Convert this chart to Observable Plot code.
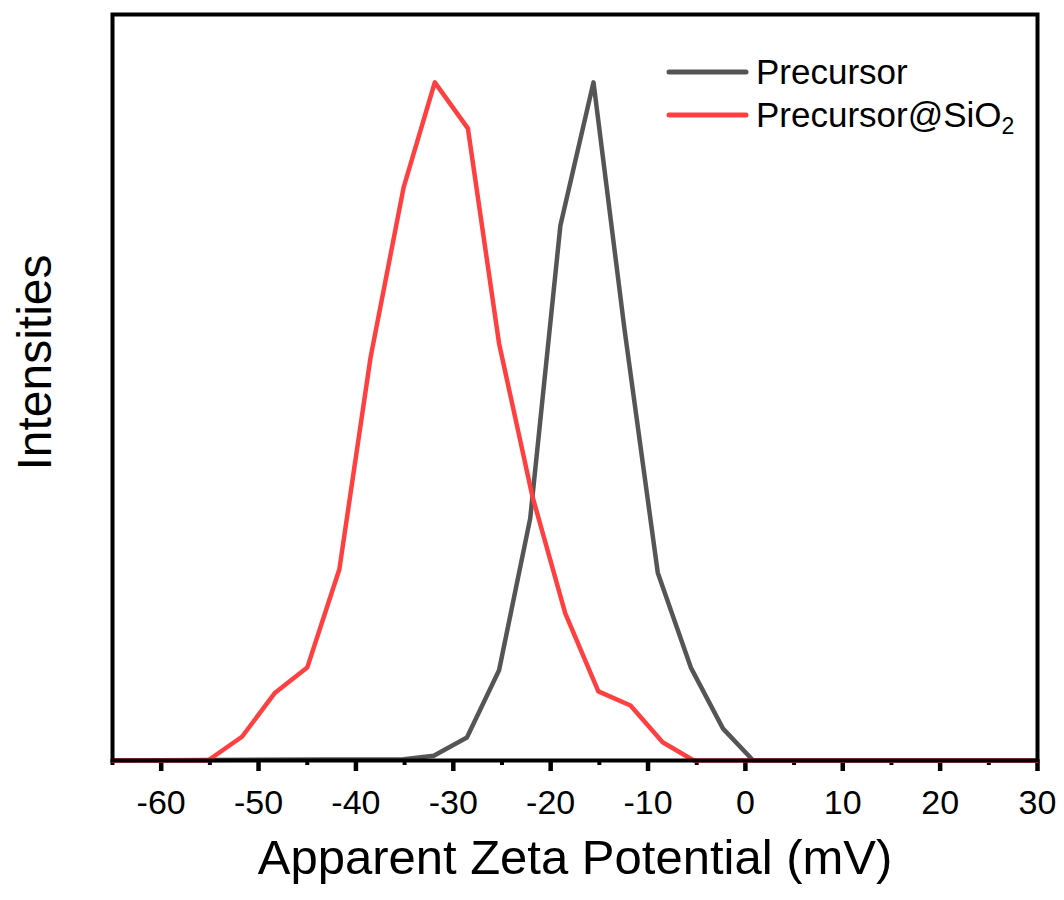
<!DOCTYPE html>
<html>
<head>
<meta charset="utf-8">
<script src="https://cdn.jsdelivr.net/npm/d3@7"></script>
<script src="https://cdn.jsdelivr.net/npm/@observablehq/plot@0.6"></script>
<style>
  html, body { margin: 0; padding: 0; background: #fff; }
  #wrap { position: relative; width: 1064px; height: 900px; font-family: "Liberation Sans", Arial, sans-serif; }
  .leg { position: absolute; left: 0; top: 0; }
  .legtxt { position: absolute; font-size: 35px; color: #000; white-space: nowrap; line-height: 1; }
  .legtxt sub { font-size: 23px; vertical-align: -7px; }
</style>
</head>
<body>
<div id="wrap"></div>
<script>
// Precursor (grey)
const xPrecursor = [-65, -35.1, -32.0, -28.6, -25.3, -22.1, -19.0, -15.6, -12.4, -9.0, -5.6, -2.3, 0.8, 30];
const yPrecursor = [0, 0.2, 0.7, 3.4, 13.3, 35.7, 78.9, 100, 63.4, 27.7, 13.7, 4.7, 0, 0];
// Precursor@SiO2 (red)
const xSiO2 = [-65, -55.2, -51.7, -48.3, -45.0, -41.7, -38.5, -35.1, -31.9, -28.5, -25.3, -21.9, -18.5, -15.1, -11.8, -8.5, -5.3, 30];
const ySiO2 = [0, 0, 3.5, 10.0, 13.7, 28.2, 59.4, 84.5, 100, 93.2, 61.5, 39.1, 21.7, 10.2, 8.1, 2.7, 0, 0];
const xMajorTicks = [-60, -50, -40, -30, -20, -10, 0, 10, 20, 30];
const xMinorTicks = [-65, -55, -45, -35, -25, -15, -5, 5, 15, 25];
const seriesNames = ["Precursor", "Precursor@SiO2"];
const seriesColors = ["#555555", "#ff4040"];

const grey = xPrecursor.map((x, i) => ({x, y: yPrecursor[i]}));
const red = xSiO2.map((x, i) => ({x, y: ySiO2[i]}));

const chart = Plot.plot({
  width: 1064,
  height: 900,
  marginLeft: 112,
  marginRight: 27,
  marginTop: 14,
  marginBottom: 140,
  style: {fontFamily: "'Liberation Sans', Arial, sans-serif", color: "#000", background: "#fff"},
  x: {domain: [-65, 30]},
  y: {domain: [0, 110], axis: null},
  marks: [
    Plot.axisX({ticks: xMinorTicks, tickSize: 5, strokeWidth: 4, tickFormat: () => "", label: null}),
    Plot.axisX({ticks: xMajorTicks, tickSize: 11, strokeWidth: 4.5, tickPadding: 18, fontSize: 34,
                tickFormat: d => String(d), label: null}),
    Plot.line(grey, {x: "x", y: "y", stroke: seriesColors[0], strokeWidth: 4.5}),
    Plot.line(red, {x: "x", y: "y", stroke: seriesColors[1], strokeWidth: 4.5}),
    Plot.frame({stroke: "#000", strokeWidth: 4}),
    Plot.text(["Apparent Zeta Potential (mV)"], {frameAnchor: "bottom", dy: 113, fontSize: 49, fill: "#000"}),
    Plot.text(["Intensities"], {frameAnchor: "left", textAnchor: "middle", rotate: -90, dx: -77, dy: -25, fontSize: 48, fill: "#000"})
  ]
});

const wrap = document.getElementById("wrap");
wrap.appendChild(chart);

// Legend
const legY = [72, 115];
const ns = "http://www.w3.org/2000/svg";
const legSvg = document.createElementNS(ns, "svg");
legSvg.setAttribute("width", 1064);
legSvg.setAttribute("height", 200);
legSvg.setAttribute("class", "leg");
seriesNames.forEach((name, i) => {
  const ln = document.createElementNS(ns, "line");
  ln.setAttribute("x1", 669); ln.setAttribute("x2", 746);
  ln.setAttribute("y1", legY[i]); ln.setAttribute("y2", legY[i]);
  ln.setAttribute("stroke", seriesColors[i]);
  ln.setAttribute("stroke-width", 5);
  ln.setAttribute("stroke-linecap", "round");
  legSvg.appendChild(ln);
  const t = document.createElement("div");
  t.className = "legtxt";
  t.style.left = "756px";
  t.style.top = (legY[i] - 18) + "px";
  t.innerHTML = name === "Precursor@SiO2" ? "Precursor@SiO<sub>2</sub>" : name;
  wrap.appendChild(t);
});
wrap.appendChild(legSvg);
</script>
</body>
</html>
